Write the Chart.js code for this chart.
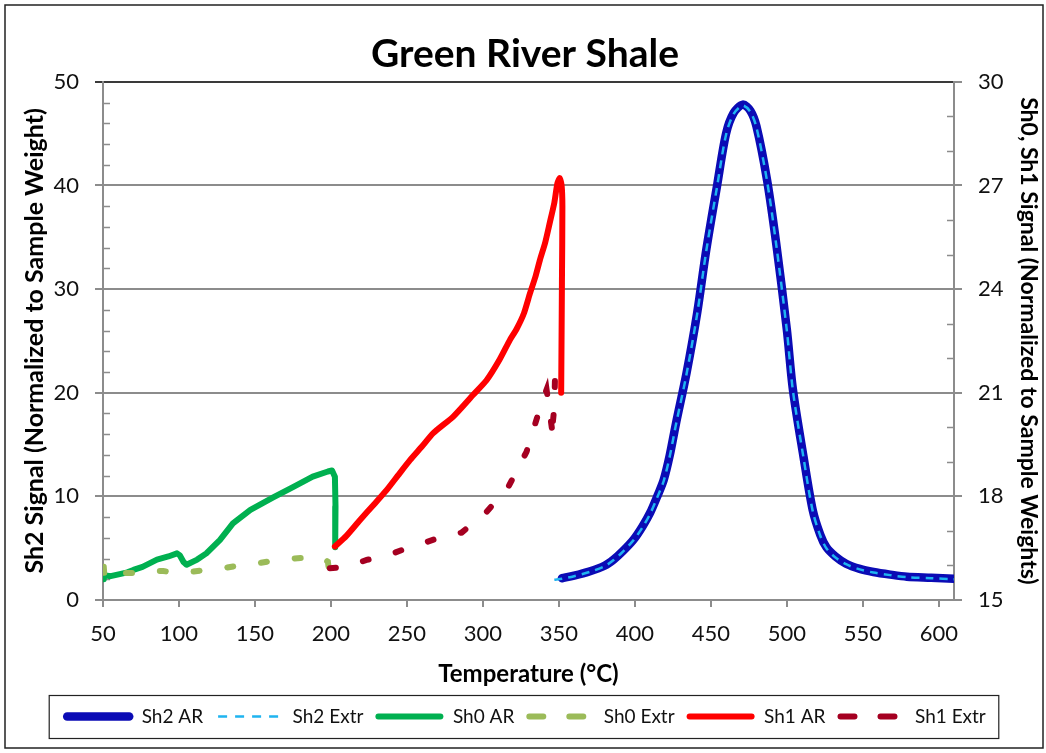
<!DOCTYPE html>
<html>
<head>
<meta charset="utf-8">
<title>Green River Shale</title>
<script src="https://cdn.jsdelivr.net/npm/chart.js@4.4.1/dist/chart.umd.min.js"></script>
<style>
  html, body { margin: 0; padding: 0; background: #fff; }
  #wrap { width: 1046px; height: 753px; }
</style>
</head>
<body>
<div id="wrap"><canvas id="shaleChart" width="1046" height="753"></canvas></div>
<script>
// Temperature (°C) / signal pairs
// Sh2 series are on the left axis, Sh0 / Sh1 on the right axis

const sh2ArTemp = [352, 360, 370, 380, 386, 392, 399, 405, 410, 415, 419, 423, 427, 434, 441, 447, 454, 460, 465, 471, 476, 480, 487, 493, 500, 504, 511, 517, 522, 526, 532, 539, 548, 557, 568, 579, 595, 610];
const sh2ArVal  = [2.1, 2.35, 2.75, 3.3, 3.9, 4.7, 5.8, 7.1, 8.4, 10.1, 11.6, 14.0, 17.0, 21.9, 27.7, 33.8, 39.9, 45.0, 47.0, 47.8, 47.2, 45.7, 40.5, 34.4, 26.1, 20.3, 13.8, 8.7, 6.3, 5.1, 4.2, 3.5, 3.0, 2.7, 2.45, 2.25, 2.15, 2.05];

const sh2ExtrTemp = [347, 352, 360, 370, 380, 386, 392, 399, 405, 410, 415, 419, 423, 427, 434, 441, 447, 454, 460, 465, 471, 476, 480, 487, 493, 500, 504, 511, 517, 522, 526, 532, 539, 548, 557, 568, 579, 595, 610];
const sh2ExtrVal  = [1.95, 2.05, 2.3, 2.7, 3.25, 3.85, 4.65, 5.75, 7.0, 8.3, 10.0, 11.5, 13.9, 16.9, 21.8, 27.6, 33.7, 39.8, 44.9, 46.9, 47.7, 47.1, 45.6, 40.4, 34.3, 26.0, 20.2, 13.7, 8.6, 6.2, 5.0, 4.1, 3.45, 2.95, 2.65, 2.4, 2.2, 2.1, 2.0];

const sh0ArTemp = [50, 50.5, 55, 61, 66, 70, 76, 85.5, 93, 98.7, 100.6, 103, 105, 112, 118, 127, 135.5, 147, 162, 175, 188, 198, 200.7, 202.6, 203, 202.8];
const sh0ArVal  = [15.6, 15.72, 15.69, 15.75, 15.8, 15.87, 15.96, 16.17, 16.26, 16.35, 16.29, 16.1, 16.02, 16.17, 16.35, 16.74, 17.22, 17.61, 17.97, 18.27, 18.57, 18.72, 18.75, 18.57, 17.7, 16.53];

const sh0ExtrTemp = [50.5, 51, 54.6, 62, 74.3, 82, 89.7, 98.5, 107, 117, 127, 138, 150, 162, 175, 186, 192.8, 198, 198.5];
const sh0ExtrVal  = [15.96, 15.66, 15.81, 15.78, 15.78, 15.84, 15.84, 15.78, 15.81, 15.87, 15.9, 15.99, 16.05, 16.14, 16.2, 16.23, 16.26, 16.11, 15.93];

const sh1ArTemp = [202.6, 210, 219, 228, 236.6, 244, 252, 260, 267.3, 280.5, 293.6, 302.4, 311, 317.8, 322, 327, 331, 334.5, 337.5, 341, 344, 347, 349, 350.6, 351.8, 352.3, 352, 351.5];
const sh1ArVal  = [16.55, 16.85, 17.31, 17.75, 18.18, 18.6, 19.05, 19.45, 19.83, 20.31, 20.94, 21.36, 21.96, 22.53, 22.83, 23.3, 23.88, 24.35, 24.84, 25.35, 25.92, 26.5, 27.06, 27.21, 27.0, 26.4, 24.18, 21.0];

const sh1ExtrTemp = [199.3, 210.3, 223.5, 236.6, 249.8, 263, 275, 286, 298, 302.4, 316.7, 328.7, 338.6, 341.9, 346.3, 346, 347, 347.5, 348];
const sh1ExtrVal  = [15.92, 15.96, 16.16, 16.28, 16.5, 16.68, 16.86, 16.95, 17.4, 17.55, 18.27, 19.29, 20.7, 21.09, 19.68, 20.13, 20.58, 21.57, 22.02];

const seriesNames = ['Sh2 AR', 'Sh2 Extr', 'Sh0 AR', 'Sh0 Extr', 'Sh1 AR', 'Sh1 Extr'];

function pairs(xs, ys) {
  return xs.map((x, i) => ({ x: x, y: ys[i] }));
}

const FONT = 'Lato, "Open Sans", sans-serif';
const GRAY = '#8c8c8c';
const LEGEND_LINE = 68;

// small inward minor ticks like the Excel original
const minorTicks = {
  id: 'minorTicks',
  beforeDatasetsDraw(chart) {
    const { ctx, chartArea, scales } = chart;
    ctx.save();
    ctx.strokeStyle = GRAY;
    ctx.lineWidth = 1.5;
    ctx.beginPath();
    for (let v = 0; v <= 50; v += 2) {
      if (v % 10 === 0) continue;
      const y = Math.round(scales.y.getPixelForValue(v)) + 0.5;
      ctx.moveTo(chartArea.left, y);
      ctx.lineTo(chartArea.left + 7, y);
    }
    for (let v = 15; v <= 30; v += 1) {
      if (v % 3 === 0) continue;
      const y = Math.round(scales.y1.getPixelForValue(v)) + 0.5;
      ctx.moveTo(chartArea.right - 7, y);
      ctx.lineTo(chartArea.right, y);
    }
    ctx.stroke();
    ctx.restore();
  }
};

// outer frame, legend frame and the legend line samples (with dashes)
const frames = {
  id: 'frames',
  afterDraw(chart) {
    const { ctx, legend } = chart;
    ctx.save();
    ctx.strokeStyle = '#222';
    ctx.lineWidth = 1.5;
    ctx.strokeRect(5, 5, 1038, 743);
    if (legend && legend.legendHitBoxes.length) {
      const boxes = legend.legendHitBoxes;
      const left = Math.min(...boxes.map(b => b.left)) - 15;
      const right = Math.max(...boxes.map(b => b.left + b.width)) + 13;
      ctx.lineWidth = 1.2;
      ctx.strokeRect(left, legend.top + 0.5, right - left, 43);

      boxes.forEach((b, i) => {
        const ds = chart.data.datasets[legend.legendItems[i].datasetIndex];
        const y = b.top + b.height / 2;
        ctx.beginPath();
        ctx.strokeStyle = ds.borderColor;
        ctx.lineWidth = ds.borderWidth;
        ctx.lineCap = ds.borderCapStyle || 'butt';
        ctx.setLineDash(ds.legendDash || []);
        ctx.moveTo(b.left + 3, y);
        ctx.lineTo(b.left + LEGEND_LINE - 3, y);
        ctx.stroke();
      });
    }
    ctx.restore();
  }
};

const ctx = document.getElementById('shaleChart');

new Chart(ctx, {
  type: 'line',
  data: {
    datasets: [{
      label: seriesNames[0],
      data: pairs(sh2ArTemp, sh2ArVal),
      yAxisID: 'y',
      borderColor: '#0b0bb5',
      borderWidth: 8.5,
      borderCapStyle: 'round',
      tension: 0.3,
      order: 5
    }, {
      label: seriesNames[1],
      data: pairs(sh2ExtrTemp, sh2ExtrVal),
      yAxisID: 'y',
      borderColor: '#1fb4f0',
      borderWidth: 2.5,
      borderDash: [8, 6],
      legendDash: [9, 8],
      tension: 0.3,
      order: 4
    }, {
      label: seriesNames[2],
      data: pairs(sh0ArTemp, sh0ArVal),
      yAxisID: 'y1',
      borderColor: '#00b050',
      borderWidth: 6,
      borderCapStyle: 'round',
      borderJoinStyle: 'round',
      order: 3
    }, {
      label: seriesNames[3],
      data: pairs(sh0ExtrTemp, sh0ExtrVal),
      yAxisID: 'y1',
      borderColor: '#9bbb59',
      borderWidth: 6,
      borderDash: [6, 28],
      legendDash: [14, 26],
      borderCapStyle: 'round',
      order: 2
    }, {
      label: seriesNames[4],
      data: pairs(sh1ArTemp, sh1ArVal),
      yAxisID: 'y1',
      borderColor: '#ff0000',
      borderWidth: 6,
      borderCapStyle: 'round',
      borderJoinStyle: 'round',
      tension: 0.2,
      order: 1
    }, {
      label: seriesNames[5],
      data: pairs(sh1ExtrTemp, sh1ExtrVal),
      yAxisID: 'y1',
      borderColor: '#a50021',
      borderWidth: 6,
      borderDash: [6, 28],
      legendDash: [14, 26],
      borderCapStyle: 'round',
      order: 0
    }]
  },
  options: {
    responsive: false,
    animation: false,
    layout: {
      padding: { top: 10, left: 6, right: 2, bottom: 17 }
    },
    elements: {
      point: { radius: 0, hoverRadius: 0 }
    },
    plugins: {
      title: {
        display: true,
        text: 'Green River Shale',
        color: '#000',
        font: { family: FONT, size: 39, weight: 'bold' },
        padding: { top: 21, bottom: 4 }
      },
      legend: {
        position: 'bottom',
        labels: {
          boxWidth: LEGEND_LINE,
          padding: 12,
          color: '#111',
          font: { family: FONT, size: 19 },
          sort: (a, b) => a.datasetIndex - b.datasetIndex,
          generateLabels: (chart) =>
            Chart.defaults.plugins.legend.labels.generateLabels(chart).map(l =>
              Object.assign(l, { fillStyle: 'rgba(0,0,0,0)', strokeStyle: 'rgba(0,0,0,0)', lineWidth: 0 }))
        }
      },
      tooltip: { enabled: false }
    },
    scales: {
      x: {
        type: 'linear',
        min: 50,
        max: 610,
        ticks: {
          stepSize: 50,
          includeBounds: false,
          padding: 14,
          maxRotation: 0,
          color: '#111',
          font: { family: FONT, size: 22 }
        },
        grid: { drawOnChartArea: false, tickLength: 7, color: GRAY, lineWidth: 2 },
        border: { color: GRAY, width: 2 },
        title: {
          display: true,
          text: 'Temperature (°C)',
          color: '#000',
          font: { family: FONT, size: 24, weight: 'bold' },
          padding: { top: 0, bottom: 6 }
        },
        afterFit: (scale) => { scale.height = 95; }
      },
      y: {
        position: 'left',
        min: 0,
        max: 50,
        ticks: {
          stepSize: 10,
          padding: 16,
          color: '#111',
          font: { family: FONT, size: 22 }
        },
        grid: {
          tickLength: 8,
          lineWidth: 2,
          color: (c) => (c.tick && c.tick.value === 50 ? '#3a3a3a' : GRAY)
        },
        border: { color: GRAY, width: 2 },
        title: {
          display: true,
          text: 'Sh2 Signal (Normalized to Sample Weight)',
          color: '#000',
          font: { family: FONT, size: 25, weight: 'bold' },
          padding: { top: 14, bottom: 0 }
        },
        afterFit: (scale) => { scale.width = 97; }
      },
      y1: {
        position: 'right',
        min: 15,
        max: 30,
        ticks: {
          stepSize: 3,
          padding: 16,
          color: '#111',
          font: { family: FONT, size: 22 }
        },
        grid: { drawOnChartArea: false, tickLength: 8, lineWidth: 2, color: GRAY },
        border: { color: GRAY, width: 2 },
        title: {
          display: true,
          text: 'Sh0, Sh1 Signal (Normalized to Sample Weights)',
          color: '#000',
          font: { family: FONT, size: 23, weight: 'bold' },
          padding: { top: 2, bottom: 0 }
        },
        afterFit: (scale) => { scale.width = 90; }
      }
    }
  },
  plugins: [minorTicks, frames]
});
</script>
</body>
</html>
